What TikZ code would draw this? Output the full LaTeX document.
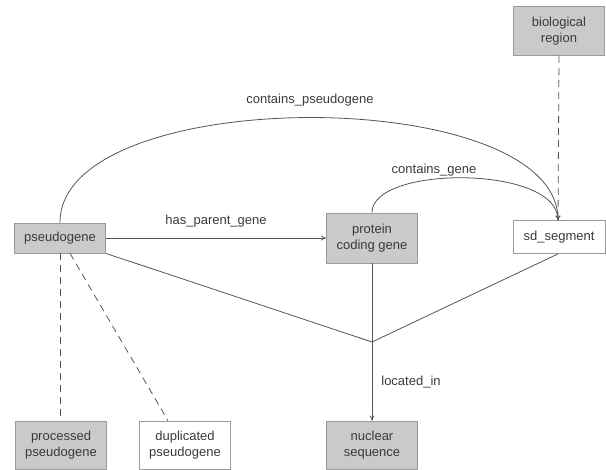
\documentclass[tikz,border=0pt]{standalone}
\usepackage{fontspec}
\setmainfont{Liberation Sans}
\usetikzlibrary{arrows.meta}
\definecolor{boxfill}{HTML}{CACACA}
\definecolor{boxline}{HTML}{9A9A9A}
\definecolor{edgecol}{HTML}{555555}
\definecolor{txt}{HTML}{3A3A3A}
\begin{document}
\begin{tikzpicture}[x=1pt,y=-1pt,
  box/.style={draw=boxline,line width=0.8pt,minimum width=91pt,align=center,inner sep=0pt,
    font=\fontsize{13}{16}\selectfont,text=txt},
  gbox/.style={box,fill=boxfill},
  wbox/.style={box,fill=white},
  edge/.style={draw=edgecol,line width=0.8pt},
  arr/.style={edge,-{To[length=5pt,width=5pt]}},
  dashline/.style={edge,dash pattern=on 7pt off 5pt},
  lbl/.style={font=\fontsize{13}{16}\selectfont,text=txt,inner sep=0pt}]
\useasboundingbox (0,0) rectangle (606,470);
\node[gbox,minimum height=30pt] (pg) at (60,238) {pseudogene};
\node[gbox,minimum height=50pt] (pcg) at (372,238) {protein\\coding gene};
\node[wbox,minimum height=33pt,minimum width=92pt] (sd) at (559,237) {sd\_segment};
\node[gbox,minimum height=49pt] (bio) at (559,31) {biological\\region};
\node[gbox,minimum height=48pt] (proc) at (61,445) {processed\\pseudogene};
\node[wbox,minimum height=48pt] (dup) at (185,445) {duplicated\\pseudogene};
\node[gbox,minimum height=48pt] (nuc) at (372,445) {nuclear\\sequence};
\coordinate (J) at (372,342);
\coordinate (sdtop) at (558,220.5);
% arcs
\draw[arr] (pg.north) .. controls (60,83) and (558,83) .. (sdtop);
\draw[arr] (pcg.north) .. controls (372,165) and (558,165) .. (sdtop);
\node[lbl] (l1) at (310,100) {contains\_pseudogene};
\node[lbl] (l2) at (434,170) {contains\_gene};
% has_parent_gene
\draw[arr] (pg.east) -- (pcg.west);
\node[lbl] (l3) at (216,221) {has\_parent\_gene};
% located_in
\draw[edge] (pg.south east) -- (J);
\draw[edge] ([xshift=-1pt]sd.south) -- (J);
\draw[edge] (pcg.south) -- (J);
\draw[arr] (J) -- (nuc.north);
\node[lbl] (l4) at (411,382) {located\_in};
% dashed
\draw[dashline] (bio.south) -- (sdtop);
\draw[dashline] (pg.south) -- (proc.north -| pg.south);
\draw[dashline] ([xshift=10pt]pg.south) -- ([xshift=-17pt]dup.north);
\end{tikzpicture}
\end{document}
